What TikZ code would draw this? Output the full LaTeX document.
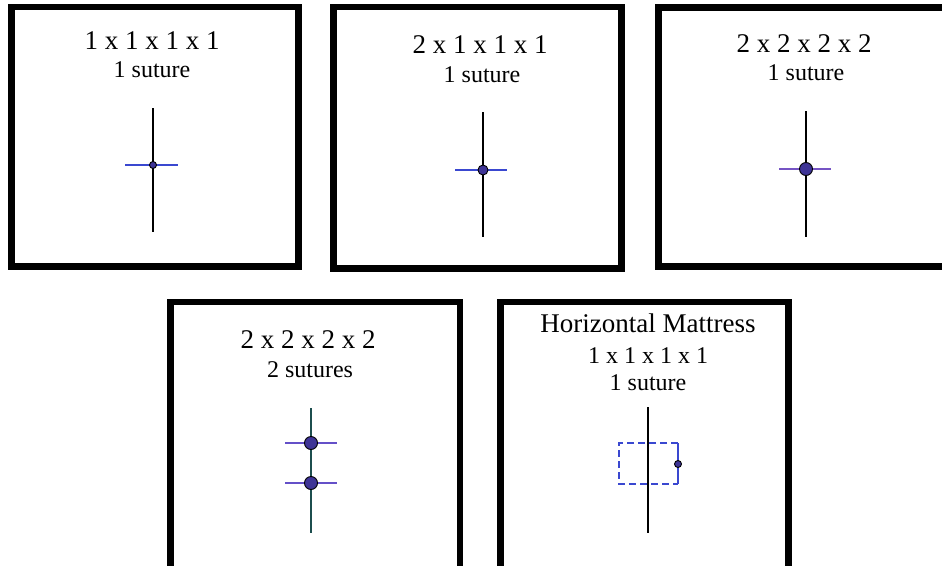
\documentclass[tikz,border=0pt]{standalone}
\usepackage{fontspec}
\setmainfont{Liberation Serif}
\usetikzlibrary{positioning}
\definecolor{stitch}{RGB}{58,72,208}
\definecolor{stitchv}{RGB}{118,84,196}
\definecolor{knot}{RGB}{62,52,150}
\definecolor{woundg}{RGB}{28,78,78}

\begin{document}
\begin{tikzpicture}[x=1pt,y=-1pt, every node/.style={align=center},
 panel/.style={draw,line width=6.5pt,inner sep=0pt},
 head/.style={font=\fontsize{27}{29}\selectfont,anchor=base,inner sep=0pt},
 sub/.style={font=\fontsize{24}{26}\selectfont,anchor=base,inner sep=0pt},
 wound/.style={line width=2.7pt},
 stitchline/.style={stitch,line width=2.2pt},
 knotdot/.style={circle,draw=black,fill=knot,line width=0.9pt,inner sep=0pt,minimum size=#1},
 knotdot/.default=7pt]
\clip (0,0) rectangle (942,565);
\fill[white] (0,0) rectangle (942,565);
% top row
\node[panel,minimum width=287pt,minimum height=259.5pt] (p1) at (155,136.75) {};
\node[panel,minimum width=288pt,minimum height=261.5pt] (p2) at (477.5,137.75) {};
\node[panel,minimum width=321.5pt,minimum height=259pt] (p3) at (819.25,137) {};
% bottom row
\node[panel,minimum width=289.5pt,minimum height=298pt] (p4) at (315.25,451) {};
\node[panel,minimum width=288pt,minimum height=298pt] (p5) at (644.5,451) {};

\node[head] (t1) at (152,49) {1 x 1 x 1 x 1};
\node[sub] (s1) at (152,77) {1 suture};
\node[head] (t2) at (480,53) {2 x 1 x 1 x 1};
\node[sub] (s2) at (482,82) {1 suture};
\node[head] (t3) at (804,52) {2 x 2 x 2 x 2};
\node[sub] (s3) at (806,80) {1 suture};
\node[head] (t4) at (308,348) {2 x 2 x 2 x 2};
\node[sub] (s4) at (310,377) {2 sutures};
\node[head] (t5) at (648,332) {Horizontal Mattress};
\node[sub] (u5) at (648,363) {1 x 1 x 1 x 1};
\node[sub] (s5) at (648,390) {1 suture};

% simple sutures
\coordinate (k1) at (153,165);
\draw[wound] (k1) ++(0,-57) -- ++(0,124);
\draw[stitchline] (k1) ++(-28,0) -- ++(53,0);
\node[knotdot] (d1) at (k1) {};

\coordinate (k2) at (483,170);
\draw[wound] (k2) ++(0,-58) -- ++(0,125);
\draw[stitchline] (k2) ++(-28,0) -- ++(52,0);
\node[knotdot=10pt] (d2) at (k2) {};

\coordinate (k3) at (806,169);
\draw[wound] (k3) ++(0,-58) -- ++(0,126);
\draw[stitchline,stitchv] (k3) ++(-27,0) -- ++(52,0);
\node[knotdot=13pt] (d3) at (k3) {};

% two sutures
\coordinate (k4) at (311,443);
\coordinate (k4b) at (311,483);
\draw[wound,woundg] (k4) ++(0,-35) -- ++(0,125);
\foreach \k in {k4,k4b}{
  \draw[stitchline,stitchv!70!stitch] (\k) ++(-26,0) -- ++(52,0);
  \node[knotdot=13pt] at (\k) {};
}

% horizontal mattress
\coordinate (k5) at (678,464);
\draw[wound] (648,407) -- (648,533);
\draw[stitch,line width=1.6pt,dash pattern=on 7pt off 4pt] (k5) ++(0,-21) -- ++(-59,0) -- ++(0,41) -- ++(59,0);
\draw[stitch,line width=1.6pt] (k5) ++(0,-21) -- ++(0,41);
\node[knotdot] (d5) at (k5) {};
\end{tikzpicture}
\end{document}
